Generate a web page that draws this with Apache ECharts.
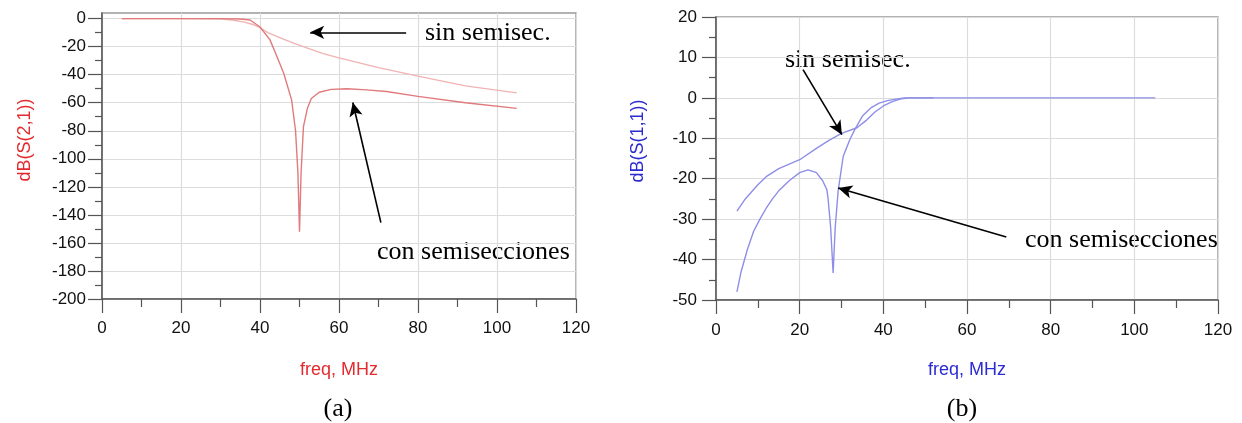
<!DOCTYPE html>
<html lang="es">
  <head>
    <meta charset="UTF-8" />
    <title>S21 / S11</title>
    <script src="https://cdn.jsdelivr.net/npm/echarts@6.0.0/dist/echarts.min.js"></script>
    <style>
      html, body { margin: 0; padding: 0; background: #fff; }
      #box { width: 1242px; height: 423px; }
    </style>
  </head>
  <body>
    <div id="box"></div>
    <script>
      // (a) dB(S(2,1)) con semisecciones
      var s21ConFreq = [5, 10, 20, 30, 35, 37.5, 40, 42.5, 44, 46, 48, 49, 49.6, 50, 50.4, 51, 52, 53, 55, 58, 62, 67, 72, 80, 92, 105];
      var s21ConDb = [0, 0, 0, 0, -0.3, -1, -6, -15, -25, -39, -58, -80, -110, -152, -110, -77, -64, -57, -52.5, -50.5, -50, -50.8, -52, -55.5, -60, -64];
      // (a) dB(S(2,1)) sin semisecciones
      var s21SinFreq = [5, 20, 30, 33, 36, 38, 40, 42, 45, 48, 52, 56, 60, 70, 80, 92, 105];
      var s21SinDb = [0, 0, -0.3, -1, -2.5, -4, -6.5, -10, -13.5, -17, -21, -25, -28, -35, -41, -48, -53];

      // (b) dB(S(1,1)) con semisecciones
      var s11ConFreq = [5, 6, 7.5, 9, 10.5, 12, 13.5, 15, 17.5, 20, 22, 24, 25.5, 26.5, 26.8, 27.4, 28, 28.5, 29.2, 30.4, 32, 33.2, 35, 37, 39, 41, 43, 45, 52];
      var s11ConDb = [-48, -43, -37.5, -33, -30, -27.3, -25, -23, -20.5, -18.5, -17.8, -18.5, -20.5, -22.7, -25, -32, -43.3, -32, -23, -14.5, -10.3, -7.8, -4.5, -2.5, -1.3, -0.7, -0.3, 0, 0];
      // (b) dB(S(1,1)) sin semisecciones
      var s11SinFreq = [5, 7, 10, 12, 15, 20, 24, 27, 30, 33.7, 36, 38, 40, 42, 44, 46, 60, 80, 105];
      var s11SinDb = [-28, -25, -21.5, -19.5, -17.5, -15.3, -12.5, -10.5, -8.8, -7.4, -5.5, -3.5, -2, -1, -0.3, 0, 0, 0, 0];

      // ticks
      var s21Ticks = [-200, -180, -160, -140, -120, -100, -80, -60, -40, -20, 0];

      // flechas de anotación (coordenadas de datos: inicio, punta)
      var arrowA1 = [[77, -9.8], [52.7, -9.8]];
      var arrowA2 = [[70.6, -145.5], [63.5, -59.8]];
      var arrowB1 = [[20.8, 7.0], [30.1, -9.1]];
      var arrowB2 = [[69.4, -34.4], [29.2, -22.3]];

      function zip(xs, ys) {
        return xs.map(function (x, i) { return [x, ys[i]]; });
      }

      var red = "#e22b2f";
      var blue = "#2b2bd2";
      var gridColor = "#dcdcdc";
      var axisColor = "#555";
      var labelFont = { color: "#111", fontSize: 17, fontFamily: "Liberation Sans" };

      function xAx(idx, margin, name, color, nameGap) {
        return {
          gridIndex: idx,
          type: "value",
          position: "bottom",
          min: 0,
          max: 120,
          interval: 20,
          name: name,
          nameLocation: "middle",
          nameGap: nameGap,
          nameTextStyle: { color: color, fontSize: 18, fontFamily: "Liberation Sans" },
          axisLine: { onZero: false, lineStyle: { color: axisColor, width: 1.5 } },
          axisTick: { show: true, inside: false, length: 14, lineStyle: { color: axisColor, width: 1.2 } },
          minorTick: { show: true, splitNumber: 2, length: 8, lineStyle: { color: axisColor, width: 1.2 } },
          axisLabel: Object.assign({ margin: margin }, labelFont),
          splitLine: { show: true, lineStyle: { color: gridColor, width: 1.2 } },
        };
      }

      function arrowLine(pair) {
        return [{ coord: pair[0], symbol: "none" }, { coord: pair[1], symbol: "arrow" }];
      }

      function curve(name, xi, xs, ys, color, marks) {
        var s = {
          name: name,
          type: "line",
          xAxisIndex: xi,
          yAxisIndex: xi,
          showSymbol: false,
          data: zip(xs, ys),
          lineStyle: { color: color, width: 1.4 },
        };
        if (marks) {
          s.markLine = {
            silent: true,
            symbolSize: [10, 14],
            label: { show: false },
            lineStyle: { color: "#000", width: 1.6, type: "solid" },
            data: marks.map(arrowLine),
          };
        }
        return s;
      }

      var myChart = echarts.init(document.getElementById("box"));
      var option = {
        animation: false,
        grid: [
          { left: 102, top: 13, width: 474, height: 286, show: true, borderColor: "#999", borderWidth: 1.5 },
          { left: 716, top: 17, width: 502, height: 283, show: true, borderColor: "#999", borderWidth: 1.5 },
        ],
        xAxis: [xAx(0, 21, "freq, MHz", red, 62), xAx(1, 22, "freq, MHz", blue, 61)],
        yAxis: [
          {
            gridIndex: 0,
            type: "value",
            min: -200,
            max: 4,
            interval: 20,
            axisLine: { lineStyle: { color: axisColor, width: 1.5 } },
            axisTick: { inside: false, length: 14, customValues: s21Ticks, lineStyle: { color: axisColor, width: 1.2 } },
            minorTick: { show: true, splitNumber: 2, length: 7, lineStyle: { color: axisColor, width: 1.2 } },
            axisLabel: Object.assign({ margin: 16, customValues: s21Ticks }, labelFont),
            splitLine: { show: true, lineStyle: { color: gridColor, width: 1.2 } },
          },
          {
            gridIndex: 1,
            type: "value",
            min: -50,
            max: 20,
            interval: 10,
            axisLine: { lineStyle: { color: axisColor, width: 1.5 } },
            axisTick: { inside: false, length: 14, lineStyle: { color: axisColor, width: 1.2 } },
            minorTick: { show: true, splitNumber: 2, length: 7, lineStyle: { color: axisColor, width: 1.2 } },
            axisLabel: Object.assign({ margin: 19 }, labelFont),
            splitLine: { show: true, lineStyle: { color: gridColor, width: 1.2 } },
          },
        ],
        series: [
          curve("sin semisec. (a)", 0, s21SinFreq, s21SinDb, "#f0b3b3", [arrowA1, arrowA2]),
          curve("con semisecciones (a)", 0, s21ConFreq, s21ConDb, "#e07a7c"),
          curve("sin semisec. (b)", 1, s11SinFreq, s11SinDb, "#8e8ee8", [arrowB1, arrowB2]),
          curve("con semisecciones (b)", 1, s11ConFreq, s11ConDb, "#8e8ee8"),
        ],
        graphic: [
          // nombres de eje Y
          { type: "text", x: 25, y: 140, rotation: Math.PI / 2,
            style: { text: "dB(S(2,1))", fill: red, font: "18px 'Liberation Sans'", align: "center", verticalAlign: "middle" } },
          { type: "text", x: 638, y: 141, rotation: Math.PI / 2,
            style: { text: "dB(S(1,1))", fill: blue, font: "18px 'Liberation Sans'", align: "center", verticalAlign: "middle" } },
          // anotaciones
          { type: "text", x: 425, y: 33,
            style: { text: "sin semisec.", fill: "#000", font: "26px 'Liberation Serif'", align: "left", verticalAlign: "middle" } },
          { type: "text", x: 377, y: 252,
            style: { text: "con semisecciones", fill: "#000", font: "26px 'Liberation Serif'", align: "left", verticalAlign: "middle" } },
          { type: "text", x: 785, y: 60,
            style: { text: "sin semisec.", fill: "#000", font: "26px 'Liberation Serif'", align: "left", verticalAlign: "middle" } },
          { type: "text", x: 1025, y: 240,
            style: { text: "con semisecciones", fill: "#000", font: "26px 'Liberation Serif'", align: "left", verticalAlign: "middle" } },
          // rótulos (a) y (b)
          { type: "text", x: 338, y: 409,
            style: { text: "(a)", fill: "#000", font: "26px 'Liberation Serif'", align: "center", verticalAlign: "middle" } },
          { type: "text", x: 962, y: 409,
            style: { text: "(b)", fill: "#000", font: "26px 'Liberation Serif'", align: "center", verticalAlign: "middle" } },
        ],
      };
      myChart.setOption(option);
    </script>
  </body>
</html>
